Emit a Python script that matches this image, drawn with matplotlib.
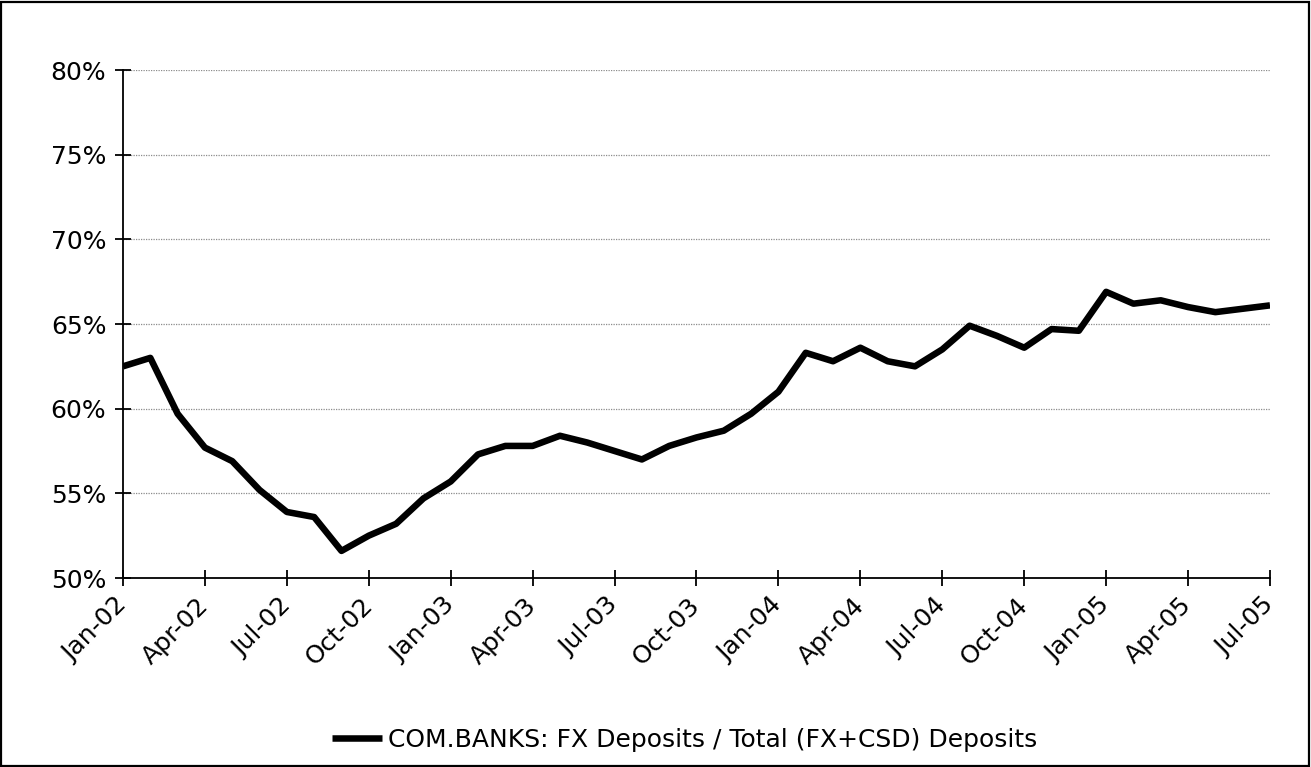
import matplotlib
matplotlib.use('Agg')
import matplotlib.pyplot as plt
from matplotlib.patches import Rectangle

# monthly share of FX deposits, Jan-02 .. Jul-05 (%)
months = [
    'Jan-02', 'Feb-02', 'Mar-02', 'Apr-02', 'May-02', 'Jun-02', 'Jul-02', 'Aug-02', 'Sep-02',
    'Oct-02', 'Nov-02', 'Dec-02', 'Jan-03', 'Feb-03', 'Mar-03', 'Apr-03', 'May-03', 'Jun-03',
    'Jul-03', 'Aug-03', 'Sep-03', 'Oct-03', 'Nov-03', 'Dec-03', 'Jan-04', 'Feb-04', 'Mar-04',
    'Apr-04', 'May-04', 'Jun-04', 'Jul-04', 'Aug-04', 'Sep-04', 'Oct-04', 'Nov-04', 'Dec-04',
    'Jan-05', 'Feb-05', 'Mar-05', 'Apr-05', 'May-05', 'Jun-05', 'Jul-05',
]
fx_share = [
    62.5, 63.0, 59.7, 57.7, 56.9, 55.2, 53.9, 53.6, 51.6,
    52.5, 53.2, 54.7, 55.7, 57.3, 57.8, 57.8, 58.4, 58.0,
    57.5, 57.0, 57.8, 58.3, 58.7, 59.7, 61.0, 63.3, 62.8,
    63.6, 62.8, 62.5, 63.5, 64.9, 64.3, 63.6, 64.7, 64.6,
    66.9, 66.2, 66.4, 66.0, 65.7, 65.9, 66.1,
]
yticks = [50, 55, 60, 65, 70, 75, 80]
series_name = 'COM.BANKS: FX Deposits / Total (FX+CSD) Deposits'

W, H = 1311, 767
fig = plt.figure(figsize=(W / 100, H / 100), dpi=100)
ax = fig.add_axes([123 / W, 1 - 578 / H, (1270 - 123) / W, (578 - 70) / H])

x = list(range(len(months)))
line, = ax.plot(x, fx_share, color='black', lw=4.7, solid_joinstyle='round',
                solid_capstyle='butt', label=series_name, zorder=3)

ax.set_xlim(0, len(months) - 1)
ax.set_ylim(50, 80)
ax.set_yticks(yticks)
ax.set_yticklabels([f'{v}%' for v in yticks])
ax.set_xticks(x[::3])
ax.set_xticklabels(months[::3], rotation=45, ha='right', va='center', rotation_mode='anchor')

for v in yticks[1:]:
    ax.axhline(v, color='#8c8c8c', lw=0.9, ls=(0, (1, 1)), zorder=1)

for s in ['top', 'right']:
    ax.spines[s].set_visible(False)
for s in ['left', 'bottom']:
    ax.spines[s].set_linewidth(1.3)
    ax.spines[s].set_color('black')

ax.tick_params(axis='both', direction='inout', length=12, width=1.3, labelsize=18, colors='black')
ax.tick_params(axis='y', pad=6)
ax.tick_params(axis='x', pad=11)

fig.legend(handles=[line], loc='center', bbox_to_anchor=(685 / W, 1 - 740 / H),
           frameon=False, handlelength=2.0, handletextpad=0.25, prop={'size': 18})

# outer chart frame
fig.patches.append(Rectangle((1 / W, 1 / H), (W - 3) / W, (H - 3) / H, transform=fig.transFigure,
                             fill=False, edgecolor='black', lw=1.6))

fig.savefig('out.png', dpi=100)
